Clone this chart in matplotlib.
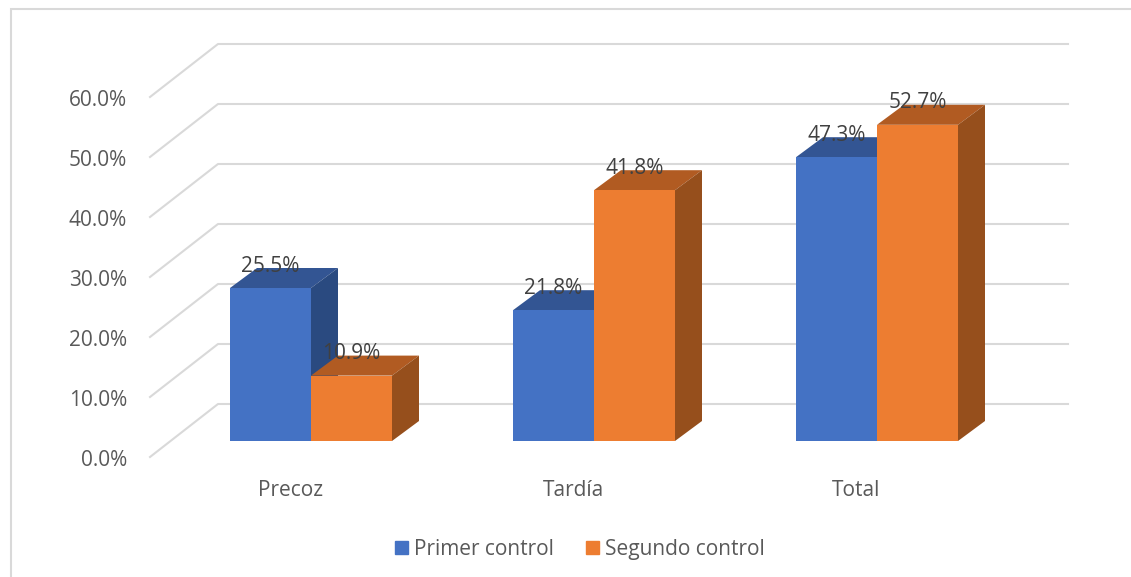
import matplotlib
matplotlib.use("Agg")
import matplotlib.pyplot as plt
from matplotlib.patches import Polygon, Patch

plt.rcParams['font.family'] = ['Open Sans', 'DejaVu Sans']

categorias = ["Precoz", "Tardía", "Total"]
primer_control = [25.5, 21.8, 47.3]
segundo_control = [10.9, 41.8, 52.7]
ticks = [0, 10, 20, 30, 40, 50, 60]

W, H = 1131, 577
PX_CAT = 283.0   # px por categoria
PX_PCT = 6.0     # px por 1%
X0, Y0 = 311.0, 441.0  # donde cae categoria 0 / valor 0
FS = 15

fig = plt.figure(figsize=(W / 100, H / 100), dpi=100)
ax = fig.add_axes([0, 0, 1, 1])
ax.set_xlim((0 - X0) / PX_CAT, (W - X0) / PX_CAT)
ax.set_ylim((Y0 - H) / PX_PCT, Y0 / PX_PCT)
ax.axis("off")


def dx(px):
    return px / PX_CAT


def dy(px):
    return px / PX_PCT


# marco de la imagen (arriba e izquierda)
ax.plot([dx(10.5 - X0), dx(10.5 - X0), dx(W - X0)],
        [dy(Y0 - H), dy(Y0 - 9), dy(Y0 - 9)], color="#D9D9D9", lw=1.5, zorder=1,
        solid_joinstyle="miter")

# rejilla: pared del fondo y piso
for t in ticks:
    xs = [dx(150 - X0), dx(218 - X0), dx(1068 - X0)]
    ys = [t + dy(Y0 - 457), t + dy(Y0 - 404), t + dy(Y0 - 404)]
    ax.plot(xs, ys, color="#D9D9D9", lw=1.5, zorder=1)
    ax.text(dx(127 - X0), t + dy(Y0 - 460), f"{t:.1f}%", ha="right", va="center",
            fontsize=FS, color="#595959")

for i, c in enumerate(categorias):
    ax.text(i + dx(-20.5), dy(Y0 - 490), c, ha="center", va="center",
            fontsize=FS, color="#595959")

ancho = 81.0 / PX_CAT
fx, fy = dx(27), dy(20)


def barra(x, v, frente, arriba, lado, z):
    ax.bar(x, v, width=ancho, color=frente, zorder=z + 0.2)
    izq, der = x - ancho / 2, x + ancho / 2
    ax.add_patch(Polygon([(izq, v), (der, v), (der + fx, v + fy), (izq + fx, v + fy)],
                         closed=True, fc=arriba, ec="none", zorder=z))
    ax.add_patch(Polygon([(der, 0), (der + fx, fy), (der + fx, v + fy), (der, v)],
                         closed=True, fc=lado, ec="none", zorder=z))


for i in range(len(categorias)):
    barra(i - ancho / 2, primer_control[i], "#4472C4", "#335593", "#2A4A80", 2 + i)
    barra(i + ancho / 2, segundo_control[i], "#ED7D31", "#B15B22", "#964F1C", 2.5 + i)

for i in range(len(categorias)):
    for x, v in [(i - ancho / 2, primer_control[i]), (i + ancho / 2, segundo_control[i])]:
        ax.text(x, v + dy(22), f"{v:.1f}%", ha="center", va="center",
                fontsize=FS, color="#404040", zorder=10)

handles = [Patch(color="#4472C4"), Patch(color="#ED7D31")]
ax.legend(handles, ["Primer control", "Segundo control"], ncol=2, frameon=False,
          loc="center", bbox_to_anchor=(580 / W, 1 - 549.5 / H),
          fontsize=FS, labelcolor="#595959", handlelength=0.62, handleheight=0.62,
          handletextpad=0.29, columnspacing=1.54)

fig.savefig("out.png", dpi=100)
